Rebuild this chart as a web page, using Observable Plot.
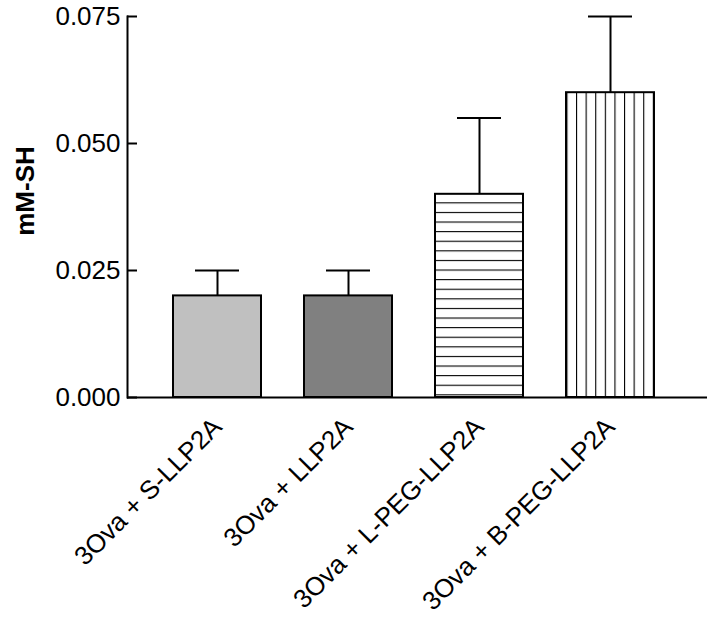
<!DOCTYPE html>
<html>
<head>
<meta charset="utf-8">
<script src="https://cdn.jsdelivr.net/npm/d3@7"></script>
<script src="https://cdn.jsdelivr.net/npm/@observablehq/plot@0.6"></script>
<style>
  html, body { margin: 0; padding: 0; background: #fff; }
  #chart svg { display: block; }
</style>
</head>
<body>
<div id="chart"></div>
<script>
// ---- data ----
const categories = ["3Ova + S-LLP2A", "3Ova + LLP2A", "3Ova + L-PEG-LLP2A", "3Ova + B-PEG-LLP2A"];
const means = [0.020, 0.020, 0.040, 0.060];
const errors = [0.005, 0.005, 0.015, 0.015];
const yTicks = [0, 0.025, 0.050, 0.075];
const yLabel = "mM-SH";

// ---- styles ----
const fills = ["#c0c0c0", "#808080", "url(#hstripes)", "url(#vstripes)"];
const font = "'Liberation Sans', Arial, Helvetica, sans-serif";

const data = categories.map((c, i) => ({cat: c, value: means[i], err: errors[i]}));

const plot = Plot.plot({
  width: 707,
  height: 618,
  marginTop: 16,
  marginBottom: 221,
  marginLeft: 127,
  marginRight: 0,
  style: {fontFamily: font, fontSize: "26px", color: "black", background: "white"},
  x: {domain: categories, paddingInner: 0.33, paddingOuter: 0.374, align: 0.459, axis: null},
  y: {domain: [0, 0.075], axis: null},
  color: {domain: categories, range: fills},
  marks: [
    Plot.barY(data, {x: "cat", y: "value", fill: "cat", stroke: "black", strokeWidth: 2}),
    Plot.ruleX(data, {x: "cat", y1: "value", y2: d => d.value + d.err, stroke: "black", strokeWidth: 2}),
    Plot.tickY(data, {x: "cat", y: d => d.value + d.err, stroke: "black", strokeWidth: 2, insetLeft: 22, insetRight: 22}),
    Plot.ruleY([0], {stroke: "black", strokeWidth: 2}),
    Plot.frame({anchor: "left", stroke: "black", strokeWidth: 2}),
    Plot.axisY({ticks: yTicks, tickSize: 10, dx: 10, tickFormat: () => "", strokeWidth: 2, label: null}),
    Plot.axisY({ticks: yTicks, tickSize: 0, tickPadding: 7, tickFormat: d3.format(".3f"), fontSize: 26, label: null}),
    Plot.axisX({tickSize: 0, tickRotate: -45, tickPadding: 25, fontSize: 26, label: null}),
    Plot.text([yLabel], {frameAnchor: "left", text: d => d, rotate: -90, dx: -102, dy: -16,
      textAnchor: "middle", lineAnchor: "middle", fontWeight: "bold", fontSize: 26})
  ]
});

// stripe patterns
const ns = "http://www.w3.org/2000/svg";
const svg = plot.tagName.toLowerCase() === "svg" ? plot : plot.querySelector("svg");
const defs = document.createElementNS(ns, "defs");
defs.innerHTML = `
  <pattern id="hstripes" patternUnits="userSpaceOnUse" x="0" y="394.3" width="20" height="9.6">
    <rect x="0" y="0" width="20" height="9.6" fill="white"/>
    <rect x="0" y="0" width="20" height="1.1" fill="black"/>
  </pattern>
  <pattern id="vstripes" patternUnits="userSpaceOnUse" x="576" y="0" width="9.6" height="20">
    <rect x="0" y="0" width="9.6" height="20" fill="white"/>
    <rect x="0" y="0" width="1.1" height="20" fill="black"/>
  </pattern>`;
svg.insertBefore(defs, svg.firstChild);

document.getElementById("chart").appendChild(plot);
</script>
</body>
</html>
